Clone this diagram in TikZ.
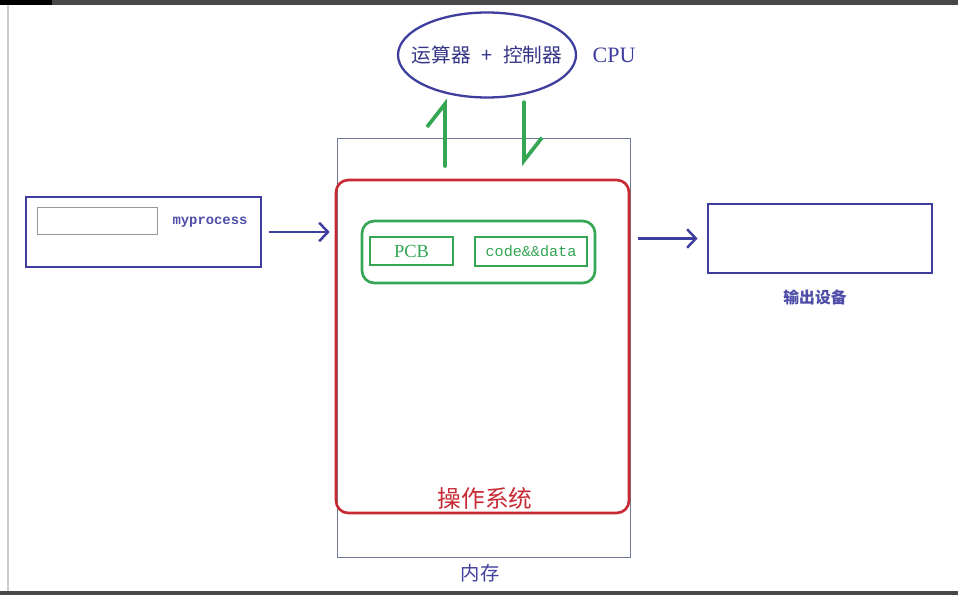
\documentclass[tikz,border=0pt]{standalone}
\usepackage{fontspec}
\setmainfont{Liberation Serif}
\newfontfamily\cjk{Noto Sans CJK SC}
\newfontfamily\mono{Liberation Mono}
\usepackage{tikz}
\usetikzlibrary{arrows.meta,positioning,shapes.geometric}

\definecolor{pblue}{RGB}{62,62,158}
\definecolor{tblue}{RGB}{78,78,168}
\definecolor{ggreen}{RGB}{52,166,84}
\definecolor{osred}{RGB}{200,42,52}
\definecolor{memgray}{RGB}{112,120,150}
\definecolor{barbg}{RGB}{72,72,72}

\begin{document}
\begin{tikzpicture}[
  font=\small,
  bluebox/.style={draw=pblue, line width=1.6pt, inner sep=0pt},
  greenbox/.style={draw=ggreen, line width=1.5pt, inner sep=0pt, text=ggreen},
  thinbox/.style={draw=memgray, line width=0.5pt, inner sep=0pt},
  parr/.style={-{Straight Barb[length=5pt,width=10.5pt]}, line width=1.4pt, draw=pblue},
  garr/.style={-{Straight Barb[harpoon,length=0.46cm,width=0.72cm]}, line width=2.1pt, draw=ggreen, line cap=round}
]
\useasboundingbox (0,0) rectangle (19.16,-11.90);
% screenshot frame
\fill[barbg] (0,0) rectangle (19.16,-0.10);
\fill[black] (0,0) rectangle (1.04,-0.10);
\fill[barbg] (0,-11.82) rectangle (19.16,-11.90);
\draw[gray!40, line width=0.6pt] (0.16,-0.10) -- (0.16,-11.82);

% cpu
\node[ellipse, draw=pblue, line width=1.3pt, minimum width=3.56cm, minimum height=1.7cm, inner sep=0pt] (cpu) at (9.74,-1.10) {};
\node[font=\cjk\fontsize{11.2}{13}\selectfont, text=pblue!85!black] (cputxt) at (cpu) {运算器\hspace{0.55em}+\hspace{0.55em}控制器};
\node[text=pblue, font=\fontsize{12.5}{14}\selectfont] (cpulbl) at (12.28,-1.10) {CPU};

% memory and os
\node[thinbox, minimum width=5.86cm, minimum height=8.38cm] (mem) at (9.67,-6.95) {};
\node[draw=osred, line width=1.5pt, rounded corners=7pt, minimum width=5.86cm, minimum height=6.66cm] (os) at (9.65,-6.93) {};
\node[text=osred, font=\cjk\fontsize{13.5}{15}\selectfont] (oslbl) at (9.70,-9.96) {操作系统};
\node[text=pblue, font=\cjk\fontsize{11}{13}\selectfont] (memlbl) at (9.60,-11.46) {内存};

% process inside os
\node[greenbox, rounded corners=7pt, minimum width=4.66cm, minimum height=1.24cm] (task) at (9.57,-5.04) {};
\node[greenbox, minimum width=1.66cm, minimum height=0.56cm, font=\fontsize{10.5}{12}\selectfont] (pcb) at (8.23,-5.02) {PCB};
\node[greenbox, minimum width=2.24cm, minimum height=0.58cm, font=\mono\fontsize{8.6}{10}\selectfont] (code) at (10.62,-5.03) {code\&\&data};

% input process
\node[bluebox, minimum width=4.70cm, minimum height=1.40cm] (proc) at (2.87,-4.64) {};
\node[thinbox, draw=gray!80, minimum width=2.40cm, minimum height=0.54cm] (slot) at (1.94,-4.41) {};
\node[text=tblue, font=\mono\bfseries\fontsize{7.9}{9}\selectfont] (proclbl) at (4.20,-4.44) {myprocess};

% output device
\node[bluebox, minimum width=4.48cm, minimum height=1.38cm] (out) at (16.40,-4.77) {};
\node[text=tblue, font=\cjk\bfseries\fontsize{9}{11}\selectfont] (outlbl) at (16.30,-5.94) {输出设备};

% arrows
\coordinate (upfoot) at (8.90,-3.32);
\coordinate (downfoot) at (10.48,-3.32);
\draw[parr, shorten <=0.14cm, shorten >=0.10cm] (proc) -- (proc -| os.west);
\draw[parr, shorten <=0.16cm, shorten >=0.18cm] (os.east |- out) -- (out.west);
\draw[garr] (upfoot) -- (upfoot |- cpu.south);
\draw[garr, shorten <=2pt] (downfoot |- cpu.south) -- (downfoot);
\end{tikzpicture}
\end{document}
